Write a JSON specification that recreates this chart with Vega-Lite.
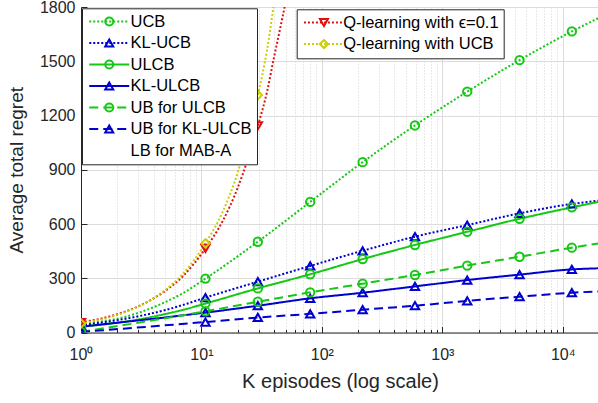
{
  "$schema": "https://vega.github.io/schema/vega-lite/v6.json",
  "width": 518,
  "height": 325.5,
  "autosize": {"type": "none"},
  "padding": {"left": 81, "top": 7, "right": 0, "bottom": 70},
  "background": "white",
  "config": {"view": {"stroke": null}, "font": "Liberation Sans"},
  "datasets": {
    "curves": [
      {"series": "UCB", "K": 1, "regret": 50}, {"series": "UCB", "K": 2, "regret": 76}, {"series": "UCB", "K": 3, "regret": 109}, {"series": "UCB", "K": 5, "regret": 168}, {"series": "UCB", "K": 7, "regret": 217}, {"series": "UCB", "K": 10.8, "regret": 298}, {"series": "UCB", "K": 29.4, "regret": 502}, {"series": "UCB", "K": 80, "regret": 722}, {"series": "UCB", "K": 218, "regret": 942}, {"series": "UCB", "K": 593, "regret": 1145}, {"series": "UCB", "K": 1610, "regret": 1332}, {"series": "UCB", "K": 4380, "regret": 1506}, {"series": "UCB", "K": 11900, "regret": 1665}, {"series": "UCB", "K": 20000, "regret": 1740},
      {"series": "KL-UCB", "K": 1, "regret": 40}, {"series": "KL-UCB", "K": 2, "regret": 68}, {"series": "KL-UCB", "K": 3, "regret": 90}, {"series": "KL-UCB", "K": 5, "regret": 124}, {"series": "KL-UCB", "K": 7, "regret": 152}, {"series": "KL-UCB", "K": 10.8, "regret": 193}, {"series": "KL-UCB", "K": 29.4, "regret": 281}, {"series": "KL-UCB", "K": 80, "regret": 368}, {"series": "KL-UCB", "K": 218, "regret": 452}, {"series": "KL-UCB", "K": 593, "regret": 530}, {"series": "KL-UCB", "K": 1610, "regret": 594}, {"series": "KL-UCB", "K": 4380, "regret": 659}, {"series": "KL-UCB", "K": 11900, "regret": 711}, {"series": "KL-UCB", "K": 20000, "regret": 729},
      {"series": "ULCB", "K": 1, "regret": 32}, {"series": "ULCB", "K": 2, "regret": 54}, {"series": "ULCB", "K": 3, "regret": 72}, {"series": "ULCB", "K": 5, "regret": 102}, {"series": "ULCB", "K": 7, "regret": 125}, {"series": "ULCB", "K": 10.8, "regret": 160}, {"series": "ULCB", "K": 29.4, "regret": 244}, {"series": "ULCB", "K": 80, "regret": 322}, {"series": "ULCB", "K": 218, "regret": 406}, {"series": "ULCB", "K": 593, "regret": 484}, {"series": "ULCB", "K": 1610, "regret": 557}, {"series": "ULCB", "K": 4380, "regret": 629}, {"series": "ULCB", "K": 11900, "regret": 692}, {"series": "ULCB", "K": 20000, "regret": 723},
      {"series": "KL-ULCB", "K": 1, "regret": 32}, {"series": "KL-ULCB", "K": 2, "regret": 54}, {"series": "KL-ULCB", "K": 3, "regret": 67}, {"series": "KL-ULCB", "K": 5, "regret": 83}, {"series": "KL-ULCB", "K": 7, "regret": 95}, {"series": "KL-ULCB", "K": 10.8, "regret": 110}, {"series": "KL-ULCB", "K": 29.4, "regret": 148}, {"series": "KL-ULCB", "K": 80, "regret": 189}, {"series": "KL-ULCB", "K": 218, "regret": 220}, {"series": "KL-ULCB", "K": 593, "regret": 255}, {"series": "KL-ULCB", "K": 1610, "regret": 290}, {"series": "KL-ULCB", "K": 4380, "regret": 320}, {"series": "KL-ULCB", "K": 11900, "regret": 349}, {"series": "KL-ULCB", "K": 20000, "regret": 355},
      {"series": "UB for ULCB", "K": 1, "regret": 3}, {"series": "UB for ULCB", "K": 10.8, "regret": 117}, {"series": "UB for ULCB", "K": 29.4, "regret": 170}, {"series": "UB for ULCB", "K": 80, "regret": 222}, {"series": "UB for ULCB", "K": 218, "regret": 270}, {"series": "UB for ULCB", "K": 593, "regret": 318}, {"series": "UB for ULCB", "K": 1610, "regret": 370}, {"series": "UB for ULCB", "K": 4380, "regret": 419}, {"series": "UB for ULCB", "K": 11900, "regret": 469}, {"series": "UB for ULCB", "K": 20000, "regret": 493},
      {"series": "UB for KL-ULCB", "K": 1, "regret": 3}, {"series": "UB for KL-ULCB", "K": 10.8, "regret": 58}, {"series": "UB for KL-ULCB", "K": 29.4, "regret": 83}, {"series": "UB for KL-ULCB", "K": 80, "regret": 103}, {"series": "UB for KL-ULCB", "K": 218, "regret": 126}, {"series": "UB for KL-ULCB", "K": 593, "regret": 148}, {"series": "UB for KL-ULCB", "K": 1610, "regret": 175}, {"series": "UB for KL-ULCB", "K": 4380, "regret": 198}, {"series": "UB for KL-ULCB", "K": 11900, "regret": 220}, {"series": "UB for KL-ULCB", "K": 20000, "regret": 227},
      {"series": "Q-learning with ϵ=0.1", "K": 1, "regret": 55}, {"series": "Q-learning with ϵ=0.1", "K": 2, "regret": 101}, {"series": "Q-learning with ϵ=0.1", "K": 3, "regret": 145}, {"series": "Q-learning with ϵ=0.1", "K": 5, "regret": 230}, {"series": "Q-learning with ϵ=0.1", "K": 7, "regret": 311}, {"series": "Q-learning with ϵ=0.1", "K": 10.8, "regret": 465}, {"series": "Q-learning with ϵ=0.1", "K": 15, "regret": 616}, {"series": "Q-learning with ϵ=0.1", "K": 20, "regret": 800}, {"series": "Q-learning with ϵ=0.1", "K": 29.4, "regret": 1142}, {"series": "Q-learning with ϵ=0.1", "K": 35, "regret": 1330}, {"series": "Q-learning with ϵ=0.1", "K": 40, "regret": 1520}, {"series": "Q-learning with ϵ=0.1", "K": 45, "regret": 1680}, {"series": "Q-learning with ϵ=0.1", "K": 50, "regret": 1830}, {"series": "Q-learning with ϵ=0.1", "K": 55, "regret": 1990},
      {"series": "Q-learning with UCB", "K": 1, "regret": 50}, {"series": "Q-learning with UCB", "K": 2, "regret": 97}, {"series": "Q-learning with UCB", "K": 3, "regret": 144}, {"series": "Q-learning with UCB", "K": 5, "regret": 235}, {"series": "Q-learning with UCB", "K": 7, "regret": 324}, {"series": "Q-learning with UCB", "K": 10.8, "regret": 493}, {"series": "Q-learning with UCB", "K": 15, "regret": 667}, {"series": "Q-learning with UCB", "K": 20, "regret": 884}, {"series": "Q-learning with UCB", "K": 29.4, "regret": 1313}, {"series": "Q-learning with UCB", "K": 35, "regret": 1560}, {"series": "Q-learning with UCB", "K": 40, "regret": 1820}, {"series": "Q-learning with UCB", "K": 45, "regret": 2060}
    ],
    "markers": [
      {"series": "UCB", "K": 1, "regret": 50}, {"series": "UCB", "K": 10.8, "regret": 298}, {"series": "UCB", "K": 29.4, "regret": 502}, {"series": "UCB", "K": 80, "regret": 722}, {"series": "UCB", "K": 218, "regret": 942}, {"series": "UCB", "K": 593, "regret": 1145}, {"series": "UCB", "K": 1610, "regret": 1332}, {"series": "UCB", "K": 4380, "regret": 1506}, {"series": "UCB", "K": 11900, "regret": 1665},
      {"series": "KL-UCB", "K": 1, "regret": 40}, {"series": "KL-UCB", "K": 10.8, "regret": 193}, {"series": "KL-UCB", "K": 29.4, "regret": 281}, {"series": "KL-UCB", "K": 80, "regret": 368}, {"series": "KL-UCB", "K": 218, "regret": 452}, {"series": "KL-UCB", "K": 593, "regret": 530}, {"series": "KL-UCB", "K": 1610, "regret": 594}, {"series": "KL-UCB", "K": 4380, "regret": 659}, {"series": "KL-UCB", "K": 11900, "regret": 711},
      {"series": "ULCB", "K": 1, "regret": 32}, {"series": "ULCB", "K": 10.8, "regret": 160}, {"series": "ULCB", "K": 29.4, "regret": 244}, {"series": "ULCB", "K": 80, "regret": 322}, {"series": "ULCB", "K": 218, "regret": 406}, {"series": "ULCB", "K": 593, "regret": 484}, {"series": "ULCB", "K": 1610, "regret": 557}, {"series": "ULCB", "K": 4380, "regret": 629}, {"series": "ULCB", "K": 11900, "regret": 692},
      {"series": "KL-ULCB", "K": 1, "regret": 32}, {"series": "KL-ULCB", "K": 10.8, "regret": 110}, {"series": "KL-ULCB", "K": 29.4, "regret": 148}, {"series": "KL-ULCB", "K": 80, "regret": 189}, {"series": "KL-ULCB", "K": 218, "regret": 220}, {"series": "KL-ULCB", "K": 593, "regret": 255}, {"series": "KL-ULCB", "K": 1610, "regret": 290}, {"series": "KL-ULCB", "K": 4380, "regret": 320}, {"series": "KL-ULCB", "K": 11900, "regret": 349},
      {"series": "UB for ULCB", "K": 1, "regret": 3}, {"series": "UB for ULCB", "K": 10.8, "regret": 117}, {"series": "UB for ULCB", "K": 29.4, "regret": 170}, {"series": "UB for ULCB", "K": 80, "regret": 222}, {"series": "UB for ULCB", "K": 218, "regret": 270}, {"series": "UB for ULCB", "K": 593, "regret": 318}, {"series": "UB for ULCB", "K": 1610, "regret": 370}, {"series": "UB for ULCB", "K": 4380, "regret": 419}, {"series": "UB for ULCB", "K": 11900, "regret": 469},
      {"series": "UB for KL-ULCB", "K": 1, "regret": 3}, {"series": "UB for KL-ULCB", "K": 10.8, "regret": 58}, {"series": "UB for KL-ULCB", "K": 29.4, "regret": 83}, {"series": "UB for KL-ULCB", "K": 80, "regret": 103}, {"series": "UB for KL-ULCB", "K": 218, "regret": 126}, {"series": "UB for KL-ULCB", "K": 593, "regret": 148}, {"series": "UB for KL-ULCB", "K": 1610, "regret": 175}, {"series": "UB for KL-ULCB", "K": 4380, "regret": 198}, {"series": "UB for KL-ULCB", "K": 11900, "regret": 220},
      {"series": "Q-learning with ϵ=0.1", "K": 1, "regret": 55}, {"series": "Q-learning with ϵ=0.1", "K": 10.8, "regret": 465}, {"series": "Q-learning with ϵ=0.1", "K": 29.4, "regret": 1142},
      {"series": "Q-learning with UCB", "K": 1, "regret": 50}, {"series": "Q-learning with UCB", "K": 10.8, "regret": 493}, {"series": "Q-learning with UCB", "K": 29.4, "regret": 1313}
    ]
  },
  "encoding": {
    "x": {
      "field": "K", "type": "quantitative",
      "scale": {"type": "log", "domain": [1, 20000]},
      "axis": {
        "title": "K episodes (log scale)",
        "values": [1,2,3,4,5,6,7,8,9,10,20,30,40,50,60,70,80,90,100,200,300,400,500,600,700,800,900,1000,2000,3000,4000,5000,6000,7000,8000,9000,10000,20000],
        "labelExpr": "abs(log(datum.value)/LN10 - round(log(datum.value)/LN10)) < 0.001 ? '10' + ['⁰','¹','²','³','⁴'][round(log(datum.value)/LN10)] : ''",
        "labelFont": "Liberation Sans", "labelFontSize": 16, "labelColor": "#262626",
        "labelPadding": 20, "labelFlush": false, "labelOverlap": false,
        "grid": true,
        "gridColor": {"condition": {"test": "abs(log(datum.value)/LN10 - round(log(datum.value)/LN10)) < 0.001", "value": "#dcdcdc"}, "value": "#d2d2d2"},
        "gridDash": {"condition": {"test": "abs(log(datum.value)/LN10 - round(log(datum.value)/LN10)) < 0.001", "value": []}, "value": [1, 2]},
        "tickSize": {"condition": {"test": "abs(log(datum.value)/LN10 - round(log(datum.value)/LN10)) < 0.001", "value": -6}, "value": -3},
        "tickColor": "#262626", "domainColor": "#262626",
        "titleFont": "Liberation Sans", "titleFontSize": 20, "titleFontWeight": "normal", "titleColor": "#262626", "titlePadding": 6
      }
    },
    "y": {
      "field": "regret", "type": "quantitative",
      "scale": {"domain": [0, 1800], "nice": false},
      "axis": {
        "title": "Average total regret",
        "values": [0, 300, 600, 900, 1200, 1500, 1800],
        "format": "d",
        "labelFont": "Liberation Sans", "labelFontSize": 16, "labelColor": "#262626", "labelPadding": 12,
        "grid": true, "gridColor": "#dcdcdc",
        "tickSize": -6, "tickColor": "#262626", "domainColor": "#262626",
        "titleFont": "Liberation Sans", "titleFontSize": 19, "titleFontWeight": "normal", "titleColor": "#262626", "titlePadding": 13
      }
    }
  },
  "layer": [
    {
      "data": {"name": "curves"},
      "transform": [{"filter": {"field": "series", "oneOf": ["UCB", "KL-UCB", "ULCB", "KL-ULCB", "UB for ULCB", "UB for KL-ULCB"]}}],
      "mark": {"type": "line", "strokeWidth": 2, "interpolate": "monotone", "clip": true},
      "encoding": {
        "color": {
          "field": "series", "type": "nominal",
          "scale": {"domain": ["UCB", "KL-UCB", "ULCB", "KL-ULCB", "UB for ULCB", "UB for KL-ULCB", "LB for MAB-A"], "range": ["#14c814", "#0000d0", "#14c814", "#0000d0", "#14c814", "#0000d0", "rgba(0,0,0,0)"]},
          "legend": {"orient": "none", "legendX": 1, "legendY": 1.3, "title": null, "symbolType": "M-5,0H5", "symbolSize": 64, "symbolStrokeWidth": 2, "symbolOffset": 14, "labelFont": "Liberation Sans", "labelFontSize": 16.5, "labelColor": "#000000", "labelOffset": 13, "labelLimit": 400, "rowPadding": 4.5, "padding": 5, "fillColor": "white", "strokeColor": "#262626"}
        },
        "strokeDash": {
          "field": "series", "type": "nominal",
          "scale": {"domain": ["UCB", "KL-UCB", "ULCB", "KL-ULCB", "UB for ULCB", "UB for KL-ULCB", "LB for MAB-A"], "range": [[2, 2], [2, 2], [1, 0], [1, 0], [9, 5], [9, 5], [1, 0]]},
          "legend": {"orient": "none", "legendX": 1, "legendY": 1.3, "title": null, "symbolType": "M-5,0H5", "symbolSize": 64, "symbolStrokeWidth": 2, "symbolOffset": 14, "labelFont": "Liberation Sans", "labelFontSize": 16.5, "labelColor": "#000000", "labelOffset": 13, "labelLimit": 400, "rowPadding": 4.5, "padding": 5, "fillColor": "white", "strokeColor": "#262626"}
        }
      }
    },
    {
      "data": {"name": "markers"},
      "transform": [{"filter": {"field": "series", "oneOf": ["UCB", "KL-UCB", "ULCB", "KL-ULCB", "UB for ULCB", "UB for KL-ULCB"]}}],
      "mark": {"type": "point", "filled": false, "strokeWidth": 2, "size": 70, "opacity": 1, "clip": true},
      "encoding": {
        "color": {
          "field": "series", "type": "nominal",
          "scale": {"domain": ["UCB", "KL-UCB", "ULCB", "KL-ULCB", "UB for ULCB", "UB for KL-ULCB", "LB for MAB-A"], "range": ["#14c814", "#0000d0", "#14c814", "#0000d0", "#14c814", "#0000d0", "rgba(0,0,0,0)"]},
          "legend": {"orient": "none", "legendX": 1, "legendY": 1.3, "title": null, "symbolSize": 64, "symbolStrokeWidth": 2, "symbolOffset": 14, "labelFont": "Liberation Sans", "labelFontSize": 16.5, "labelOpacity": 0, "labelOffset": 13, "labelLimit": 400, "rowPadding": 4.5, "padding": 5}
        },
        "shape": {
          "field": "series", "type": "nominal",
          "scale": {"domain": ["UCB", "KL-UCB", "ULCB", "KL-ULCB", "UB for ULCB", "UB for KL-ULCB", "LB for MAB-A"], "range": ["circle", "triangle-up", "circle", "triangle-up", "circle", "triangle-up", "circle"]},
          "legend": {"orient": "none", "legendX": 1, "legendY": 1.3, "title": null, "symbolSize": 64, "symbolStrokeWidth": 2, "symbolOffset": 14, "labelFont": "Liberation Sans", "labelFontSize": 16.5, "labelOpacity": 0, "labelOffset": 13, "labelLimit": 400, "rowPadding": 4.5, "padding": 5}
        }
      }
    },
    {
      "data": {"name": "curves"},
      "transform": [{"filter": {"field": "series", "oneOf": ["Q-learning with ϵ=0.1", "Q-learning with UCB"]}}],
      "mark": {"type": "line", "strokeWidth": 2, "interpolate": "monotone", "clip": true, "strokeDash": [2, 2]},
      "encoding": {
        "color": {
          "field": "series", "type": "nominal",
          "scale": {"domain": ["Q-learning with ϵ=0.1", "Q-learning with UCB"], "range": ["#dd1111", "#cccc00"]},
          "legend": {"orient": "none", "legendX": 215.7, "legendY": 2.3, "title": null, "symbolType": "M-5,0H5", "symbolSize": 64, "symbolStrokeWidth": 2, "symbolDash": [2, 2], "symbolOffset": 14, "labelFont": "Liberation Sans", "labelFontSize": 16.5, "labelColor": "#000000", "labelOffset": 11, "labelLimit": 400, "rowPadding": 4.5, "padding": 5, "fillColor": "white", "strokeColor": "#262626"}
        }
      }
    },
    {
      "data": {"name": "markers"},
      "transform": [{"filter": {"field": "series", "oneOf": ["Q-learning with ϵ=0.1", "Q-learning with UCB"]}}],
      "mark": {"type": "point", "filled": false, "strokeWidth": 2, "size": 70, "opacity": 1, "clip": true},
      "encoding": {
        "color": {
          "field": "series", "type": "nominal",
          "scale": {"domain": ["Q-learning with ϵ=0.1", "Q-learning with UCB"], "range": ["#dd1111", "#cccc00"]},
          "legend": {"orient": "none", "legendX": 215.7, "legendY": 2.3, "title": null, "symbolSize": 64, "symbolStrokeWidth": 2, "symbolOffset": 14, "labelFont": "Liberation Sans", "labelFontSize": 16.5, "labelOpacity": 0, "labelOffset": 11, "labelLimit": 400, "rowPadding": 4.5, "padding": 5}
        },
        "shape": {
          "field": "series", "type": "nominal",
          "scale": {"domain": ["Q-learning with ϵ=0.1", "Q-learning with UCB"], "range": ["triangle-down", "diamond"]},
          "legend": {"orient": "none", "legendX": 215.7, "legendY": 2.3, "title": null, "symbolSize": 64, "symbolStrokeWidth": 2, "symbolOffset": 14, "labelFont": "Liberation Sans", "labelFontSize": 16.5, "labelOpacity": 0, "labelOffset": 11, "labelLimit": 400, "rowPadding": 4.5, "padding": 5}
        }
      }
    }
  ],
  "resolve": {"scale": {"color": "independent", "strokeDash": "independent", "shape": "independent"}}
}
